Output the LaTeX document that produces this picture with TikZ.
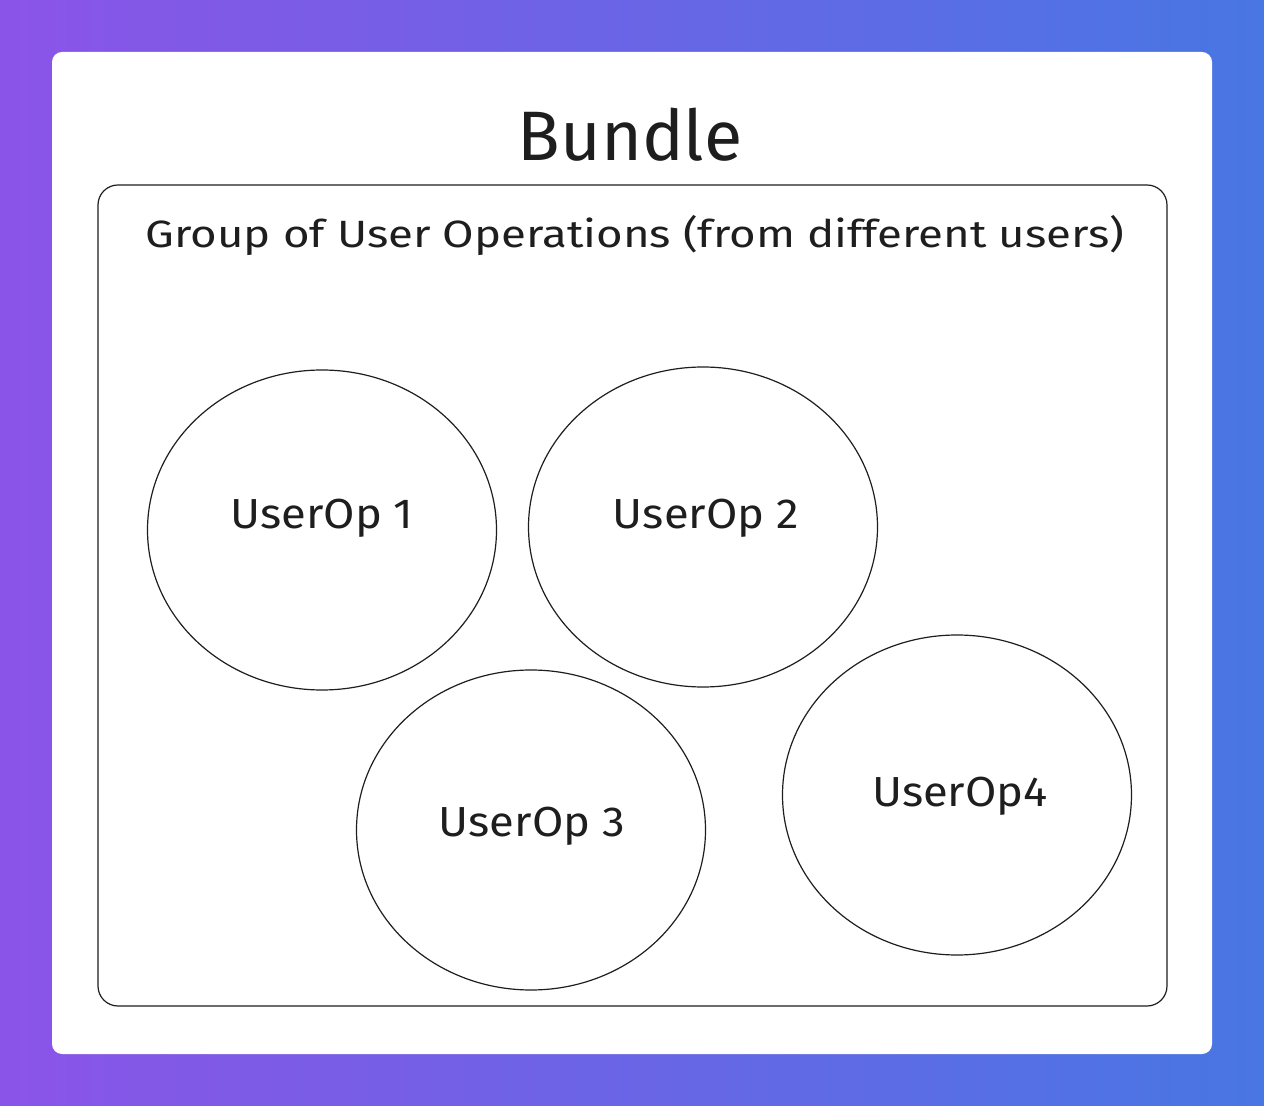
\documentclass[tikz,border=0pt]{standalone}
\usepackage{fontspec}
\setmainfont{Fira Sans}
\usetikzlibrary{shapes.geometric}
\definecolor{bgleft}{RGB}{139,84,232}
\definecolor{bgright}{RGB}{72,118,227}
\definecolor{ink}{RGB}{30,30,30}
\tikzset{
  opcircle/.style={draw=ink, line width=0.6pt, ellipse, minimum width=174.5pt, minimum height=160pt, inner sep=0pt},
  oplabel/.style={font=\fontsize{21}{24}\selectfont, text=ink, xscale=1.08},
}
\begin{document}
\begin{tikzpicture}[x=0.5pt,y=-0.5pt]
\useasboundingbox (0,0) rectangle (1264,1106);
\shade[left color=bgleft, right color=bgright] (0,0) rectangle (1264,1106);
\fill[white, rounded corners=5pt] (52,52) rectangle (1212,1054);
\node[font=\fontsize{35}{40}\selectfont, text=ink] (title) at (630,135) {Bundle};
\draw[ink, line width=0.6pt, rounded corners=10pt] (98,185) rectangle (1167,1006);
\node[font=\fontsize{19}{22}\selectfont, text=ink, xscale=1.2] (group) at (635,235) {Group of User Operations (from different users)};
\node[opcircle] (c1) at (322,530) {};
\node[opcircle] (c2) at (703,527) {};
\node[opcircle] (c3) at (531,830) {};
\node[opcircle] (c4) at (957,795) {};
\node[oplabel] (l1) at (322,518) {UserOp 1};
\node[oplabel] (l2) at (706,518) {UserOp 2};
\node[oplabel] (l3) at (532,826) {UserOp 3};
\node[oplabel] (l4) at (960,796) {UserOp4};
\end{tikzpicture}
\end{document}
